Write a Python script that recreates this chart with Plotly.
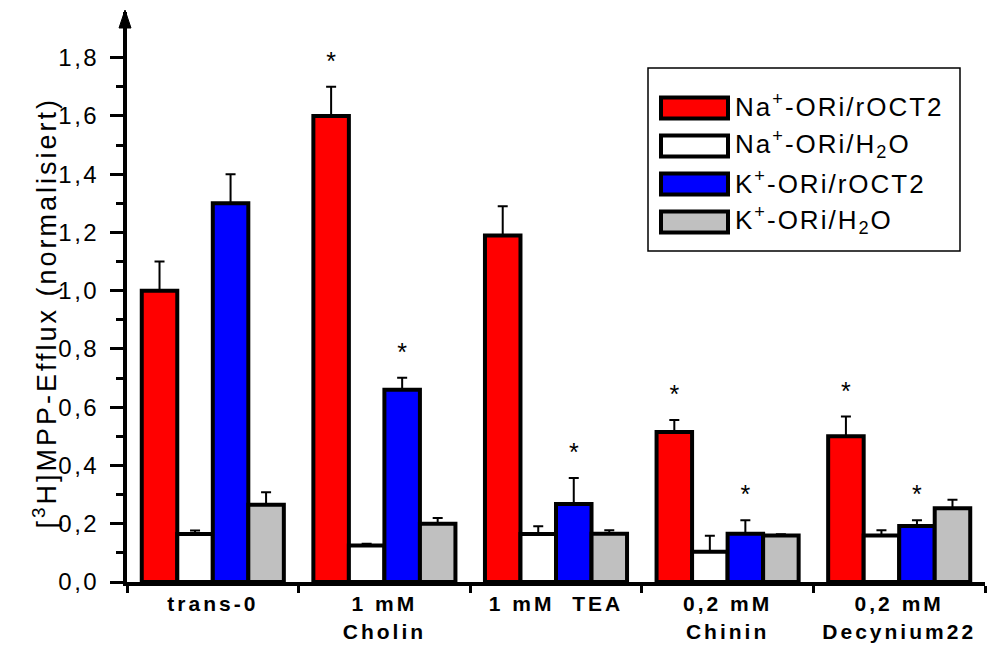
import plotly.graph_objects as go

# ---------------- data ----------------
categories = ["trans-0", "1 mM<br>Cholin", "1 mM  TEA", "0,2 mM<br>Chinin", "0,2 mM<br>Decynium22"]
series_names = [
    "Na<sup>+</sup>-ORi/rOCT2",
    "Na<sup>+</sup>-ORi/H<sub>2</sub>O",
    "K<sup>+</sup>-ORi/rOCT2",
    "K<sup>+</sup>-ORi/H<sub>2</sub>O",
]
na_roct2 = [1.00, 1.60, 1.19, 0.515, 0.50]
na_roct2_err = [0.10, 0.10, 0.10, 0.041, 0.068]
na_h2o = [0.165, 0.125, 0.165, 0.104, 0.16]
na_h2o_err = [0.012, 0.006, 0.026, 0.055, 0.018]
k_roct2 = [1.30, 0.66, 0.268, 0.166, 0.192]
k_roct2_err = [0.10, 0.041, 0.089, 0.046, 0.02]
k_h2o = [0.265, 0.20, 0.166, 0.16, 0.253]
k_h2o_err = [0.043, 0.02, 0.012, 0.004, 0.029]
na_roct2_sig = [False, True, False, True, True]
na_h2o_sig = [False, False, False, False, False]
k_roct2_sig = [False, True, True, True, True]
k_h2o_sig = [False, False, False, False, False]
y_ticks = [0.0, 0.2, 0.4, 0.6, 0.8, 1.0, 1.2, 1.4, 1.6, 1.8]
y_minor = [0.1, 0.3, 0.5, 0.7, 0.9, 1.1, 1.3, 1.5, 1.7]

values = [na_roct2, na_h2o, k_roct2, k_h2o]
errors = [na_roct2_err, na_h2o_err, k_roct2_err, k_h2o_err]
signif = [na_roct2_sig, na_h2o_sig, k_roct2_sig, k_h2o_sig]
colors = ["#FF0000", "#FFFFFF", "#0000FF", "#C0C0C0"]

# ---------------- layout geometry ----------------
W, H = 996, 646
ML, MR, MT, MB = 127, 11, 12, 64
PW, PH = W - ML - MR, H - MT - MB
BARGAP = 0.172
STAR_PAD = 0.08
N_SERIES = len(values)
SLOT_W = (1 - BARGAP) / N_SERIES

def px_x(px):
    return (px - ML) / PW

def px_y(py):
    return (H - MB - py) / PH

FONT = "Arial, Liberation Sans, sans-serif"

fig = go.Figure()

for i in range(N_SERIES):
    fig.add_trace(go.Bar(
        x=categories, y=values[i], name=series_names[i],
        marker=dict(color=colors[i], line=dict(color="black", width=4)),
        error_y=dict(type="data", symmetric=False, array=errors[i],
                     arrayminus=[0] * len(errors[i]),
                     color="black", thickness=2, width=5),
        showlegend=False, hoverinfo="skip",
    ))

# significance asterisks, placed on a hidden numeric overlay axis at the bar slots
for i in range(N_SERIES):
    xs, ys = [], []
    for k, (v, e, s) in enumerate(zip(values[i], errors[i], signif[i])):
        if s:
            xs.append(k + (i - (N_SERIES - 1) / 2) * SLOT_W)
            ys.append(v + e + STAR_PAD)
    if xs:
        fig.add_trace(go.Scatter(
            x=xs, y=ys, text=["*"] * len(xs), xaxis="x2",
            mode="text", textposition="middle center",
            textfont=dict(family=FONT, size=25, color="black"),
            showlegend=False, hoverinfo="skip",
        ))

# ---------------- custom legend (box, swatches, labels) ----------------
shapes = [dict(type="rect", xref="paper", yref="paper",
               x0=px_x(648), x1=px_x(960), y0=px_y(251), y1=px_y(68),
               line=dict(color="black", width=1.5), fillcolor="white", layer="below")]
annotations = []
for i in range(N_SERIES):
    cy = 108 + i * 38
    shapes.append(dict(type="rect", xref="paper", yref="paper",
                       x0=px_x(661), x1=px_x(728), y0=px_y(cy + 10.5), y1=px_y(cy - 10.5),
                       line=dict(color="black", width=4), fillcolor=colors[i]))
    annotations.append(dict(xref="paper", yref="paper", x=px_x(733), y=px_y(cy - 2),
                            text=series_names[i], showarrow=False,
                            xanchor="left", yanchor="middle",
                            font=dict(family=FONT, size=26, color="black")))

# y-axis title
annotations.append(dict(xref="paper", yref="paper", x=px_x(45), y=px_y(313),
                        text="[<sup>3</sup>H]MPP-Efflux (normalisiert)", textangle=-90,
                        showarrow=False, xanchor="center", yanchor="middle",
                        font=dict(family=FONT, size=27, color="black")))

# arrow head on top of the y axis
shapes.append(dict(type="path", xref="paper", yref="paper",
                   xsizemode="pixel", ysizemode="pixel", xanchor=0, yanchor=1,
                   path="M -8,-16 L 4,-16 L -2,2 Z",
                   fillcolor="black", line=dict(color="black", width=1)))

fig.update_layout(
    width=W, height=H, autosize=False,
    margin=dict(l=ML, r=MR, t=MT, b=MB, pad=0, autoexpand=False),
    paper_bgcolor="white", plot_bgcolor="white",
    barmode="group", bargap=BARGAP, bargroupgap=0,
    separators=",.",
    showlegend=False,
    shapes=shapes, annotations=annotations,
    font=dict(family=FONT, color="black"),
    xaxis2=dict(overlaying="x", anchor="y", range=[-0.5, 4.5], visible=False,
                automargin=False),
    xaxis=dict(
        type="category", categoryorder="array", categoryarray=categories,
        range=[-0.5, 4.5], tickson="boundaries", automargin=False,
        showline=True, linecolor="black", linewidth=4,
        ticks="outside", ticklen=7, tickwidth=3, tickcolor="black",
        showgrid=False, zeroline=False,
        tickfont=dict(family=FONT, size=21, color="black", weight="bold"),
    ),
    yaxis=dict(
        range=[0, 1.957], tickmode="array", tickvals=y_ticks,
        tickformat=".1f", automargin=False,
        showline=True, linecolor="black", linewidth=4,
        ticks="outside", ticklen=13, tickwidth=3, tickcolor="black",
        minor=dict(tickmode="array", tickvals=y_minor, ticks="outside",
                   ticklen=7, tickwidth=3, tickcolor="black", showgrid=False),
        showgrid=False, zeroline=False,
        tickfont=dict(family=FONT, size=24, color="black"),
        ticklabelstandoff=6,
    ),
)

# widen the letter spacing of the texts, as in the original figure
post_js = """
document.body.style.margin = '0';
var gd = document.getElementById('{plot_id}');
function sp(sel, v) {
  gd.querySelectorAll(sel).forEach(function (t) { t.style.letterSpacing = v; });
}
sp('.xtick text', '3px');
sp('.ytick text', '2.5px');
gd.querySelectorAll('.annotation').forEach(function (a, k) {
  var t = a.querySelector('text');
  if (!t) { return; }
  if (k < 4) {
    var b0 = t.getBBox();
    t.style.letterSpacing = '2px';
    var b1 = t.getBBox();
    t.setAttribute('transform', 'translate(' + (b0.x - b1.x) + ',0)');
  } else {
    t.style.letterSpacing = '3px';
  }
});
"""

fig.write_html("out.html", post_script=post_js, config={"displayModeBar": False})
